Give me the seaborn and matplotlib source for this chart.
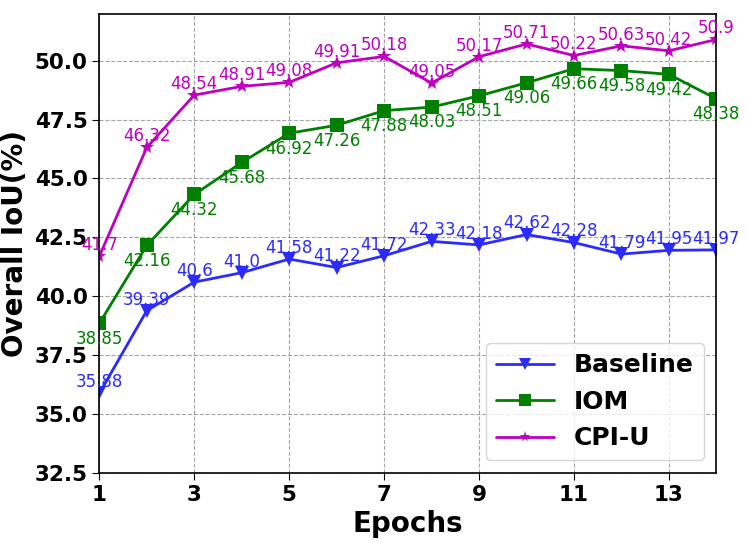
import numpy as np
import pandas as pd
import seaborn as sns
import matplotlib
matplotlib.use("Agg")
import matplotlib.pyplot as plt

epochs = list(range(1, 15))
baseline = [35.88, 39.39, 40.6, 41.0, 41.58, 41.22, 41.72, 42.33, 42.18, 42.62, 42.28, 41.79, 41.95, 41.97]
iom = [38.85, 42.16, 44.32, 45.68, 46.92, 47.26, 47.88, 48.03, 48.51, 49.06, 49.66, 49.58, 49.42, 48.38]
cpiu = [41.7, 46.32, 48.54, 48.91, 49.08, 49.91, 50.18, 49.05, 50.17, 50.71, 50.22, 50.63, 50.42, 50.9]

methods = ["Baseline", "IOM", "CPI-U"]
colors = {"Baseline": "#2b2bff", "IOM": "#008000", "CPI-U": "#bf00bf"}
markers = {"Baseline": "v", "IOM": "s", "CPI-U": "*"}

df = pd.DataFrame({
    "Epoch": epochs * 3,
    "IoU": baseline + iom + cpiu,
    "Method": ["Baseline"] * 14 + ["IOM"] * 14 + ["CPI-U"] * 14,
})

sns.set_style("ticks")
plt.rcParams.update({"text.color": "black", "axes.labelcolor": "black",
                     "xtick.color": "black", "ytick.color": "black",
                     "axes.edgecolor": "black"})
fig, ax = plt.subplots(figsize=(7.47, 5.43), dpi=100)

sns.lineplot(data=df, x="Epoch", y="IoU", hue="Method", style="Method",
             palette=colors, markers=markers, dashes=False, markersize=10,
             markeredgewidth=0, linewidth=2, ax=ax)

# value labels: baseline & CPI-U above, IOM below
offsets = {"Baseline": 8, "IOM": -11, "CPI-U": 8}
for m, vals in zip(methods, [baseline, iom, cpiu]):
    for x, v in zip(epochs, vals):
        ax.annotate(f"{v}", (x, v), xytext=(0, offsets[m]), textcoords="offset points",
                    ha="center", va="center", fontsize=12, color=colors[m])

ax.set_xlim(1, 14)
ax.set_ylim(32.5, 52)
ax.set_xticks([1, 3, 5, 7, 9, 11, 13])
ax.set_yticks(np.arange(32.5, 51, 2.5))
ax.grid(True, linestyle="--", color="gray", alpha=0.7, linewidth=0.8)
ax.tick_params(labelsize=15.5, direction="out", length=5)
for lab in ax.get_xticklabels() + ax.get_yticklabels():
    lab.set_fontweight("bold")
ax.set_xlabel("Epochs", fontsize=20, fontweight="bold")
ax.set_ylabel("Overall IoU(%)", fontsize=20, fontweight="bold")
for s in ax.spines.values():
    s.set_linewidth(1.2)

leg = ax.legend(loc="lower right", prop={"size": 18, "weight": "bold"},
                markerscale=0.8, handlelength=2.3)
leg.set_title(None)

plt.subplots_adjust(left=0.133, right=0.959, top=0.975, bottom=0.129)
plt.savefig("out.png", dpi=100)
